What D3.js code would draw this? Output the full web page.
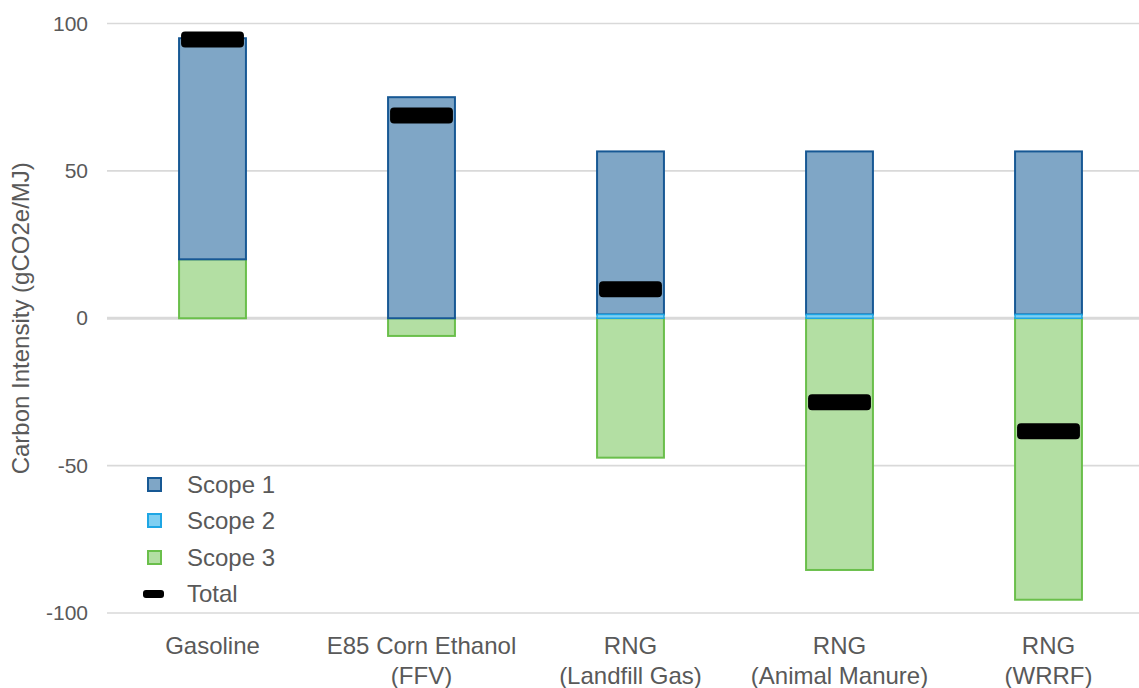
<!DOCTYPE html>
<html>
<head>
<meta charset="utf-8">
<script src="https://cdn.jsdelivr.net/npm/d3@7"></script>
<style>
  html, body { margin: 0; padding: 0; background: #fff; }
  svg { display: block; }
  text { font-family: "Liberation Sans", Arial, sans-serif; fill: #595959; }
</style>
</head>
<body>
<svg id="chart" width="1139" height="688"></svg>
<script>
// ---- data ----
const categories = [
  ["Gasoline"],
  ["E85 Corn Ethanol", "(FFV)"],
  ["RNG", "(Landfill Gas)"],
  ["RNG", "(Animal Manure)"],
  ["RNG", "(WRRF)"]
];
const scope1 = [75, 75, 55.3, 55.3, 55.3];
const scope2 = [0, 0, 1.3, 1.3, 1.3];
const scope3 = [20, -6, -47.3, -85.4, -95.5];
const totals = [94.6, 68.8, 9.8, -28.5, -38.3];
const yTicks = [-100, -50, 0, 50, 100];
const seriesNames = ["Scope 1", "Scope 2", "Scope 3", "Total"];

// ---- styles ----
const styles = {
  "Scope 1": { fill: "#7fa6c6", stroke: "#175894" },
  "Scope 2": { fill: "#7fcff2", stroke: "#1ea6e4" },
  "Scope 3": { fill: "#b3dfa3", stroke: "#6abf4b" }
};

const svg = d3.select("#chart");

const x = d3.scaleBand().domain(d3.range(categories.length)).range([108, 1153]).padding(0);
const y = d3.scaleLinear().domain([-100, 100]).range([613, 23.5]);
const barW = x.bandwidth() * 0.32;

// gridlines
svg.append("g").selectAll("line").data(yTicks).join("line")
  .attr("x1", 107).attr("x2", 1153)
  .attr("y1", d => y(d)).attr("y2", d => y(d))
  .attr("stroke", "#d9d9d9")
  .attr("stroke-width", d => d === 0 ? 3 : 1.6);

// y axis labels
const yAxis = d3.axisLeft(y).tickValues(yTicks).tickSize(0).tickPadding(0).tickFormat(d => String(d));
const ya = svg.append("g").attr("transform", "translate(88,0)").call(yAxis);
ya.select(".domain").remove();
ya.selectAll("text").style("font-size", "21px").attr("fill", "#595959")
  .style("font-family", "'Liberation Sans', Arial, sans-serif");

// y title
svg.append("text")
  .attr("transform", `translate(29,${y(0)}) rotate(-90)`)
  .attr("text-anchor", "middle")
  .style("font-size", "24px")
  .text("Carbon Intensity (gCO2e/MJ)");

// stacked data
const rows = categories.map((c, i) => ({ i, "Scope 1": scope1[i], "Scope 2": scope2[i], "Scope 3": scope3[i] }));
const stack = d3.stack().keys(["Scope 3", "Scope 2", "Scope 1"]).offset(d3.stackOffsetDiverging);
const stacked = stack(rows);

const drawOrder = ["Scope 3", "Scope 1", "Scope 2"];
drawOrder.forEach(key => {
  const s = stacked.find(d => d.key === key);
  svg.append("g").selectAll("rect").data(s.filter(d => d[1] - d[0] !== 0)).join("rect")
    .attr("x", d => x(d.data.i) + (x.bandwidth() - barW) / 2)
    .attr("width", barW)
    .attr("y", d => y(Math.max(d[0], d[1])))
    .attr("height", d => Math.abs(y(d[0]) - y(d[1])))
    .attr("fill", styles[key].fill)
    .attr("stroke", styles[key].stroke)
    .attr("stroke-width", key === "Scope 2" ? 1.5 : 2);
});

// totals markers
const mW = barW - 4, mH = 16;
svg.append("g").selectAll("rect").data(totals).join("rect")
  .attr("x", (d, i) => x(i) + (x.bandwidth() - mW) / 2)
  .attr("y", d => y(d) - mH / 2)
  .attr("width", mW).attr("height", mH)
  .attr("rx", 4)
  .attr("fill", "#000");

// x labels
const xl = svg.append("g");
categories.forEach((lines, i) => {
  const t = xl.append("text")
    .attr("x", x(i) + x.bandwidth() / 2)
    .attr("y", 654)
    .attr("text-anchor", "middle")
    .style("font-size", "24px");
  lines.forEach((ln, j) => {
    t.append("tspan").attr("x", x(i) + x.bandwidth() / 2).attr("dy", j === 0 ? 0 : 30).text(ln);
  });
});

// legend
const legY = [485, 521, 558, 594];
const lg = svg.append("g");
seriesNames.forEach((name, k) => {
  if (name === "Total") {
    lg.append("rect").attr("x", 143).attr("y", legY[k] - 4).attr("width", 21).attr("height", 8)
      .attr("rx", 3).attr("fill", "#000");
  } else {
    lg.append("rect").attr("x", 148).attr("y", legY[k] - 7).attr("width", 13).attr("height", 13)
      .attr("fill", styles[name].fill).attr("stroke", styles[name].stroke).attr("stroke-width", 2);
  }
  lg.append("text").attr("x", 187).attr("y", legY[k]).attr("dy", "0.35em")
    .style("font-size", "24px").text(name);
});
</script>
</body>
</html>
